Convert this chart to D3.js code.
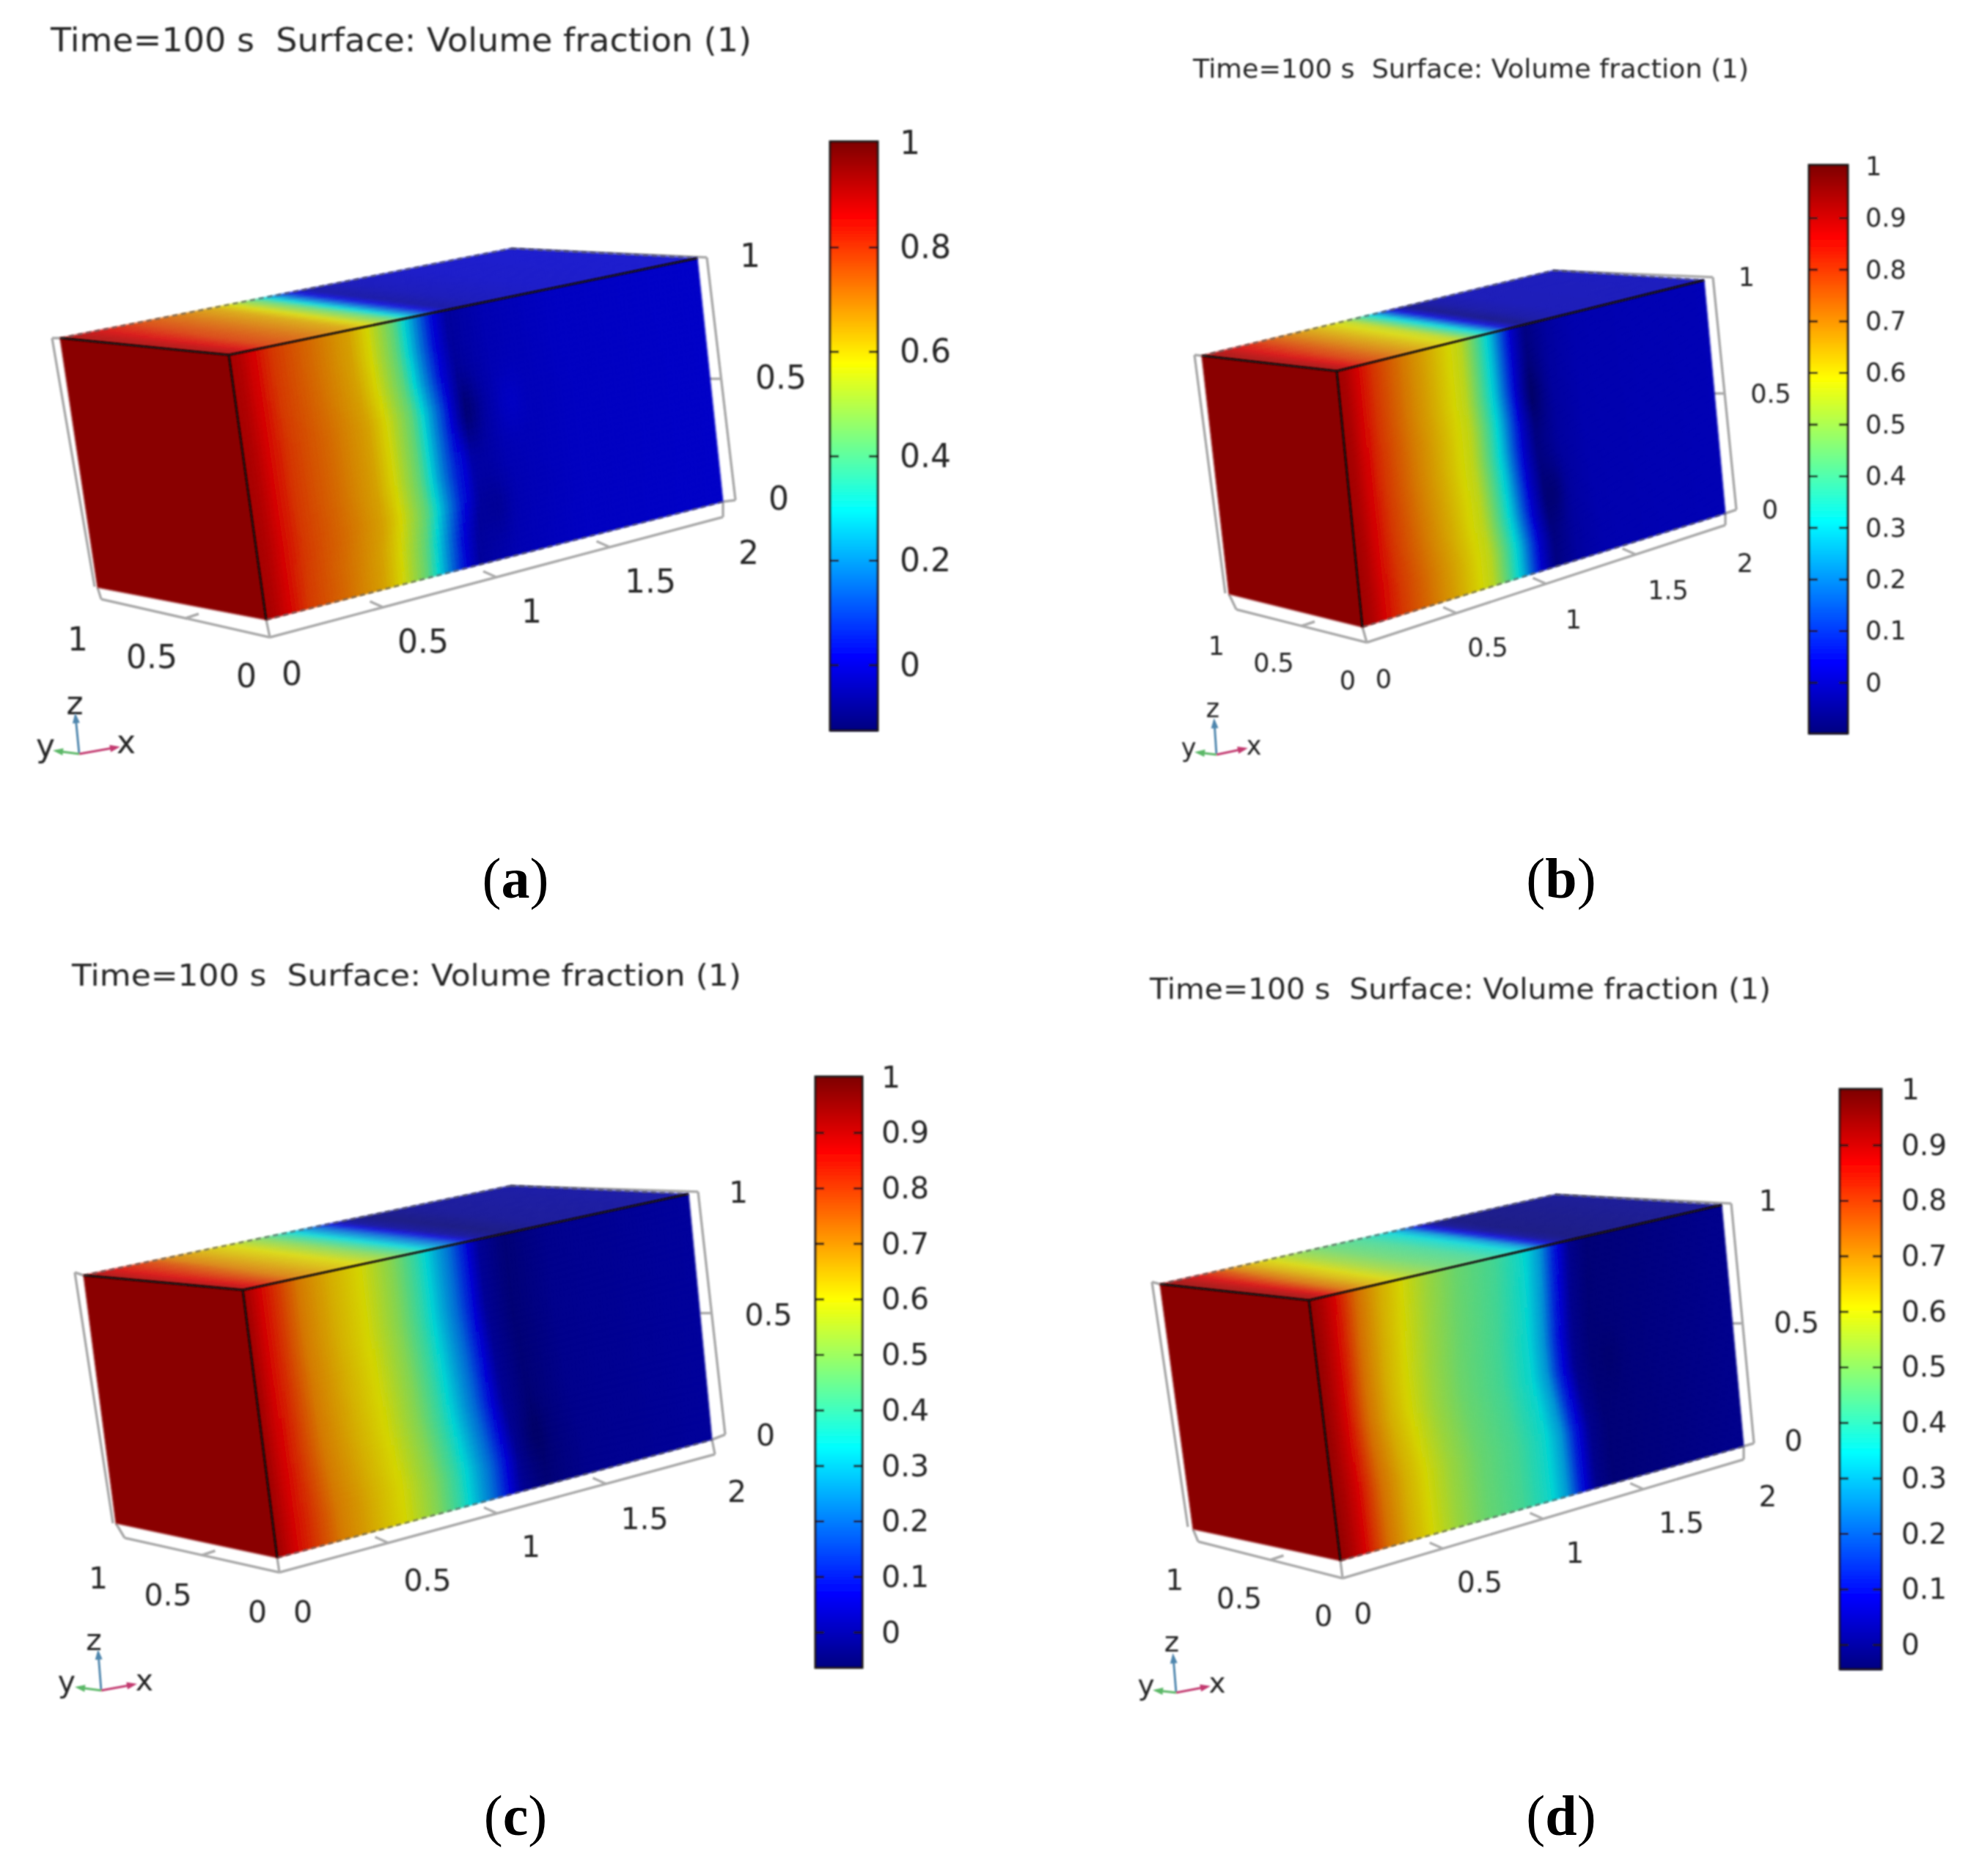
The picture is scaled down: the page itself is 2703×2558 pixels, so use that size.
<!DOCTYPE html>
<html><head><meta charset="utf-8">
<script src="https://cdn.jsdelivr.net/npm/d3@7"></script>
<style>html,body{margin:0;background:#fff}svg{display:block}text{white-space:pre}</style>
</head><body><div id="chart"></div>
<script>
// ---------- data ----------
const titleText = "Time=100 s  Surface: Volume fraction (1)";
const panelNames = ["a","b","c","d"];
const xTicks = [0,0.5,1,1.5,2];
const yTicks = [0,0.5,1];
const zTicks = [0,0.5,1];
const barTicksA = [0,0.2,0.4,0.6,0.8,1];
const barTicksOther = [0,0.1,0.2,0.3,0.4,0.5,0.6,0.7,0.8,0.9,1];

// colour-bar lower limits (upper limit is about 1 in every panel)
const barMin = {a:-0.125,b:-0.098,c:-0.063,d:-0.044};

// volume fraction along x on the front face, mid height
const stationsA = [0,0.05,0.1,0.2,0.38,0.54,0.62,0.69,0.73,0.79,0.84,0.89,0.96,1.11,1.39,2];
const valuesA   = [0.93,0.91,0.87,0.79,0.72,0.65,0.58,0.48,0.42,0.27,0.15,0.03,-0.06,-0.03,-0.01,0];
const stationsB = [0,0.05,0.1,0.2,0.37,0.5,0.6,0.68,0.72,0.78,0.85,0.9,0.95,1.03,1.15,1.3,2];
const valuesB   = [0.94,0.92,0.88,0.8,0.71,0.65,0.6,0.56,0.5,0.4,0.27,0.15,0.03,-0.07,-0.03,-0.01,0];
const stationsC = [0,0.05,0.13,0.26,0.42,0.55,0.69,0.79,0.87,0.95,1.02,1.08,1.19,1.38,2];
const valuesC   = [0.95,0.9,0.83,0.72,0.65,0.6,0.5,0.4,0.3,0.2,0.08,-0.01,-0.05,-0.02,0];
const stationsD = [0,0.05,0.11,0.22,0.33,0.41,0.55,0.69,0.88,1.02,1.1,1.16,1.24,1.32,2];
const valuesD   = [0.96,0.93,0.88,0.74,0.66,0.62,0.54,0.48,0.43,0.36,0.27,0.13,0,-0.03,0];

// horizontal displacement of the front with height
const shiftHeights = [0,0.125,0.25,0.375,0.5,0.625,0.75,0.875,1];
const shiftA = [-0.02,-0.01,0.01,0,0,0,-0.02,-0.03,-0.03];
const shiftB = [0.04,0.04,0.02,0.01,0,0,-0.01,-0.01,-0.01];
const shiftC = [0.05,0.05,0.03,0.01,0,-0.01,-0.02,-0.02,-0.02];
const shiftD = [0.03,0.03,0.03,0.01,-0.01,-0.01,0,0.01,0.02];

// faint mottling: x, z, amount
const spotsA = [[0.96,0.6,-0.05],[1.15,0.6,0.02],[0.92,0.38,0.03],[1.05,0.2,-0.02]];
const spotsB = [[1.03,0.72,-0.03],[1.1,0.3,-0.03]];
const spotsC = [[1.2,0.2,-0.02]];
const spotsD = [[1.4,0.5,-0.01]];

// shift of the front on the top face, far edge against near edge
const topShift = {a:0.13,b:0.13,c:0.13,d:0.12};

const profiles = {
  a:{st:stationsA,val:valuesA,sh:shiftA,sp:spotsA},
  b:{st:stationsB,val:valuesB,sh:shiftB,sp:spotsB},
  c:{st:stationsC,val:valuesC,sh:shiftC,sp:spotsC},
  d:{st:stationsD,val:valuesD,sh:shiftD,sp:spotsD}
};

// ---------- layout (pixels of the page) ----------
const layout = {
 a:{A:[82,461],B:[312,484],C:[133,801],D:[363,845],E:[951,352],F:[986,684],G:[697,339],
    bar:[1132,1197,193,996],barLabel:1227,one:[1227,195],zero:907,
    title:[69,1025,54],font:44,
    axX:[368,869,986,705],axY:[138,817],axZ:[1003,682,964,351],axL:[71,461,129,800],
    xL:[[398,918],[577,874],[725,833],[887,792],[1021,753]],
    yL:[[336,921],[207,895],[106,871]],
    zL:[[1062,679],[1065,514],[1023,348]],
    tri:{o:[108,1028],z:[103,977],x:[159,1019],y:[77,1024],zt:[102,961],xt:[172,1014],yt:[62,1019]},
    cap:[703,1224]},
 b:{A:[1639,485],B:[1823,506],C:[1676,810],D:[1858,855],E:[2324,382],F:[2353,700],G:[2118,369],
    bar:[2467,2520,225,1000],barLabel:2544,one:[2544,227],zero:931,
    title:[1627,2385,93],font:35,
    axX:[1864,876,2353,716],axY:[1686,831],axZ:[2368,695,2336,378],axL:[1629,484,1671,809],
    xL:[[1887,925],[2029,882],[2146,844],[2275,804],[2380,767]],
    yL:[[1838,927],[1737,903],[1659,880]],
    zL:[[2414,694],[2415,536],[2382,377]],
    tri:{o:[1659,1029],z:[1656,984],x:[1697,1021],y:[1634,1026],zt:[1654,967],xt:[1710,1018],yt:[1621,1021]},
    cap:[2129,1224]},
 c:{A:[114,1739],B:[331,1759],C:[158,2077],D:[378,2124],E:[939,1628],F:[971,1963],G:[696,1617],
    bar:[1112,1176,1468,2274],barLabel:1202,one:[1202,1469],zero:2226,
    title:[98,1011,1329],font:41,
    axX:[381,2144,975,1983],axY:[170,2097],axZ:[989,1956,952,1625],axL:[102,1735,154,2077],
    xL:[[413,2197],[583,2154],[724,2108],[879,2070],[1005,2033]],
    yL:[[351,2197],[229,2174],[134,2151]],
    zL:[[1044,1956],[1048,1792],[1007,1625]],
    tri:{o:[138,2305],z:[134,2254],x:[182,2297],y:[107,2301],zt:[128,2238],xt:[197,2293],yt:[91,2295]},
    cap:[703,2502]},
 d:{A:[1582,1751],B:[1785,1773],C:[1627,2085],D:[1828,2128],E:[2348,1643],F:[2378,1972],G:[2121,1629],
    bar:[2509,2566,1485,2276],barLabel:2593,one:[2593,1486],zero:2243,
    title:[1568,2415,1348],font:39,
    axX:[1831,2152,2378,1990],axY:[1634,2102],axZ:[2392,1968,2361,1641],axL:[1571,1748,1620,2082],
    xL:[[1859,2200],[2018,2157],[2148,2117],[2293,2076],[2411,2040]],
    yL:[[1805,2203],[1690,2179],[1602,2154]],
    zL:[[2446,1964],[2450,1803],[2411,1637]],
    tri:{o:[1604,2308],z:[1600,2259],x:[1646,2300],y:[1577,2305],zt:[1598,2240],xt:[1660,2296],yt:[1563,2299]},
    cap:[2129,2502]}
};

// ---------- drawing ----------
const W=2703,H=2558;
const svg=d3.select("#chart").append("svg").attr("width",W).attr("height",H);
svg.append("rect").attr("width",W).attr("height",H).attr("fill","#fff");
const defs=svg.append("defs");
function blur(id,sd){defs.append("filter").attr("id",id).attr("filterUnits","userSpaceOnUse")
  .attr("x",0).attr("y",0).attr("width",W).attr("height",H)
  .append("feGaussianBlur").attr("stdDeviation",sd);}
blur("soft",1.6); blur("softText",0.9);

const jet=d3.scaleLinear().domain([0,.125,.375,.625,.875,1])
  .range(["#00007f","#0000ff","#00ffff","#ffff00","#ff0000","#7f0000"]).clamp(true);
const lerp=(p,q,t)=>[p[0]+(q[0]-p[0])*t,p[1]+(q[1]-p[1])*t];
const line=d3.line();
function shade(c,k,add){const r=d3.rgb(c);return d3.rgb(r.r*k+add,r.g*k+add,r.b*k+add).formatHex();}

panelNames.forEach(name=>{
  const L=layout[name],P=profiles[name];
  const g=svg.append("g").attr("class","panel-"+name);
  const toT=d3.scaleLinear().domain([barMin[name],1.005]).range([0,1]);
  const colour=v=>jet(toT(v));
  const prof=d3.scaleLinear().domain(P.st).range(P.val).clamp(true);
  const shiftAt=d3.scaleLinear().domain(shiftHeights).range(P.sh).clamp(true);
  const field=(x,z)=>{
    const ramp=Math.min(1,x/0.4);
    let v=prof(x-shiftAt(z)*ramp);
    P.sp.forEach(s=>{const dx=(x-s[0])/0.06,dz=(z-s[1])/0.12;v+=s[2]*Math.exp(-dx*dx-dz*dz);});
    return v;
  };

  // grey frame behind the box
  const frame=g.append("g").attr("fill","none").attr("stroke","#aaa").attr("stroke-width",3.5).attr("filter","url(#softText)");
  const xAxisAt=d3.scaleLinear().domain([0,2]).range([0,1]);
  const x0=[L.axX[0],L.axX[1]],x2=[L.axX[2],L.axX[3]];
  const segs=[[x0,x2],[x0,L.axY],[[L.axZ[0],L.axZ[1]],[L.axZ[2],L.axZ[3]]],
              [[L.axL[0],L.axL[1]],[L.axL[2],L.axL[3]]],[L.G,[L.axZ[2],L.axZ[3]]],
              [[L.axZ[0],L.axZ[1]],L.F],[L.A,[L.axL[0],L.axL[1]]],[L.C,L.axY],[L.D,x0],[L.F,x2]];
  frame.selectAll("path.seg").data(segs).join("path").attr("class","seg").attr("d",d=>line(d));
  frame.selectAll("path.xtick").data(xTicks.slice(1,-1)).join("path").attr("class","xtick")
    .attr("d",v=>{const p=lerp(x0,x2,xAxisAt(v));return line([p,[p[0]-18,p[1]-8]]);});
  frame.selectAll("path.ytick").data([0.5]).join("path").attr("class","ytick")
    .attr("d",v=>{const p=lerp(x0,L.axY,v);return line([p,[p[0]+18,p[1]-6]]);});
  frame.selectAll("path.ztick").data([0.5]).join("path").attr("class","ztick")
    .attr("d",v=>{const p=lerp([L.axZ[0],L.axZ[1]],[L.axZ[2],L.axZ[3]],v);return line([p,[p[0]-16,p[1]]]);});

  // faces
  const faces=g.append("g").attr("filter","url(#soft)");
  faces.append("path").attr("class","face-left")
    .attr("d",line([L.A,L.B,L.D,L.C])+"Z")
    .attr("fill",shade(colour(1.005),1.09,0)).attr("stroke",shade(colour(1.005),1.09,0)).attr("stroke-width",1);

  const nX=120,nZ=40,nV=10;
  const xCols=d3.range(0,nX),zRows=d3.range(0,nZ),vRows=d3.range(0,nV);
  const frontAt=(x,z)=>lerp(lerp(L.D,L.F,x/2),lerp(L.B,L.E,x/2),z);
  const topAt=(x,v)=>lerp(lerp(L.B,L.E,x/2),lerp(L.A,L.G,x/2),v);
  const frontCells=[],topCells=[];
  xCols.forEach(i=>{const x0c=i/nX*2,x1c=(i+1)/nX*2;
    zRows.forEach(j=>{frontCells.push({x0:x0c,x1:x1c,z0:j/nZ,z1:(j+1)/nZ});});
    vRows.forEach(j=>{topCells.push({x0:x0c,x1:x1c,z0:j/nV,z1:(j+1)/nV});});
  });
  faces.append("g").attr("class","front").selectAll("path").data(frontCells).join("path")
    .attr("d",c=>line([frontAt(c.x0,c.z0),frontAt(c.x1,c.z0),frontAt(c.x1,c.z1),frontAt(c.x0,c.z1)])+"Z")
    .each(function(c){const col=shade(colour(field((c.x0+c.x1)/2,(c.z0+c.z1)/2)),0.83,0);
      d3.select(this).attr("fill",col).attr("stroke",col).attr("stroke-width",1);});
  faces.append("g").attr("class","top").selectAll("path").data(topCells).join("path")
    .attr("d",c=>line([topAt(c.x0,c.z0),topAt(c.x1,c.z0),topAt(c.x1,c.z1),topAt(c.x0,c.z1)])+"Z")
    .each(function(c){const v=(c.z0+c.z1)/2;
      const col=shade(colour(prof((c.x0+c.x1)/2-topShift[name]*v*Math.min(1,(c.x0+c.x1)/2/0.3))),0.74,30);
      d3.select(this).attr("fill",col).attr("stroke",col).attr("stroke-width",1);});

  // box edges
  const edges=g.append("g").attr("fill","none").attr("filter","url(#softText)");
  edges.selectAll("path.edge").data([[L.A,L.B],[L.B,L.E],[L.B,L.D]]).join("path").attr("class","edge")
    .attr("d",d=>line(d)).attr("stroke","#160808").attr("stroke-width",3);
  edges.selectAll("path.dash").data([[L.A,L.G],[L.G,L.E],[L.D,L.F]]).join("path").attr("class","dash")
    .attr("d",d=>line(d)).attr("stroke","#444").attr("stroke-width",2.5).attr("stroke-dasharray","7 5").attr("opacity",0.6);

  // text layer
  const T=g.append("g").attr("filter","url(#softText)").attr("font-family","'DejaVu Sans',sans-serif").attr("fill","#262626").attr("font-size",L.font);
  T.append("text").attr("x",L.title[0]).attr("y",L.title[2]).attr("dy","0.36em")
    .attr("textLength",L.title[1]-L.title[0]).attr("lengthAdjust","spacingAndGlyphs").text(titleText);
  const fmt=d3.format("~g");
  const put=(ticks,pos,cls)=>T.selectAll("text."+cls).data(ticks).join("text").attr("class",cls)
    .attr("x",(d,i)=>pos[i][0]).attr("y",(d,i)=>pos[i][1]).attr("dy","0.36em").attr("text-anchor","middle").text(d=>fmt(d));
  put(xTicks,L.xL,"xl"); put(yTicks,L.yL,"yl"); put(zTicks,L.zL,"zl");

  // triad
  const tri=g.append("g").attr("filter","url(#softText)");
  [["z","#4f86ad"],["x","#c23a70"],["y","#5cb868"]].forEach(([k,col])=>{
    const o=L.tri.o,e=L.tri[k];
    tri.append("path").attr("d",line([o,e])).attr("stroke",col).attr("stroke-width",3).attr("fill","none");
    const dx=e[0]-o[0],dy=e[1]-o[1],n=Math.hypot(dx,dy),ux=dx/n,uy=dy/n;
    tri.append("path").attr("fill",col).attr("d",line([[e[0]+ux*5,e[1]+uy*5],
      [e[0]-ux*9-uy*5,e[1]-uy*9+ux*5],[e[0]-ux*9+uy*5,e[1]-uy*9-ux*5]])+"Z");
    T.append("text").attr("x",L.tri[k+"t"][0]).attr("y",L.tri[k+"t"][1]).attr("dy","0.3em").attr("text-anchor","middle").text(k);
  });

  // colour bar
  const [bx0,bx1,by0,by1]=L.bar;
  const barY=d3.scaleLinear().domain([0,1]).range([L.zero,L.one[1]]);
  const bar=g.append("g").attr("filter","url(#softText)");
  const bandTs=d3.range(by0,by1,2);
  bar.selectAll("rect.band").data(bandTs).join("rect").attr("class","band")
    .attr("x",bx0).attr("width",bx1-bx0).attr("y",d=>d).attr("height",2.5)
    .attr("fill",d=>jet((by1-d)/(by1-by0)));
  bar.append("rect").attr("x",bx0).attr("y",by0).attr("width",bx1-bx0).attr("height",by1-by0)
    .attr("fill","none").attr("stroke","#1a1414").attr("stroke-width",3);
  const ticksB=name==="a"?barTicksA:barTicksOther;
  const axisG=T.append("g").attr("transform",`translate(${L.barLabel},0)`)
    .call(d3.axisRight(barY).tickValues(ticksB).tickSize(0).tickPadding(0).tickFormat(fmt));
  axisG.select(".domain").remove();
  axisG.selectAll("text").attr("font-size",L.font).attr("fill","#262626").attr("font-family","'DejaVu Sans',sans-serif");
  bar.selectAll("path.btick").data(ticksB.filter(v=>v<1)).join("path").attr("class","btick")
    .attr("stroke","#1a1414").attr("stroke-width",3).attr("fill","none")
    .attr("d",v=>`M${bx0},${barY(v)}h12M${bx1-12},${barY(v)}h12`);

  // caption
  const cap=g.append("text").attr("x",L.cap[0]).attr("y",L.cap[1]).attr("text-anchor","middle")
    .attr("font-family","'Liberation Serif',serif").attr("font-size",78).attr("fill","#000");
  cap.append("tspan").text("(");
  cap.append("tspan").attr("font-weight","bold").text(name);
  cap.append("tspan").text(")");
});
</script></body></html>
